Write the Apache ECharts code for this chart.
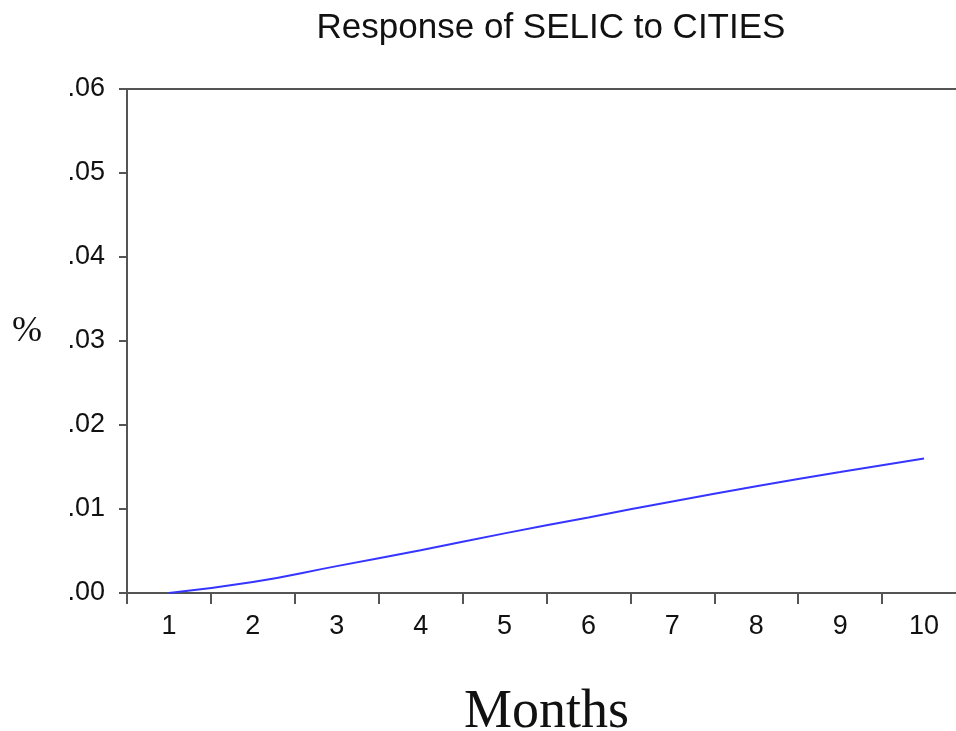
<!DOCTYPE html>
<html>
<head>
<meta charset="utf-8">
<script src="https://cdn.jsdelivr.net/npm/echarts@6/dist/echarts.min.js"></script>
<style>
  html, body { margin: 0; padding: 0; background: #fff; }
  #chart { width: 956px; height: 731px; }
</style>
</head>
<body>
<div id="chart"></div>
<script>
const months = ['1', '2', '3', '4', '5', '6', '7', '8', '9', '10'];
const response = [0.0000, 0.0013, 0.0032, 0.0051, 0.0071, 0.0090, 0.0109, 0.0127, 0.0144, 0.0160];

const chart = echarts.init(document.getElementById('chart'));
const axisGray = '#555555';

const option = {
    backgroundColor: '#ffffff',
    animation: false,
    title: {
        text: 'Response of SELIC to CITIES',
        left: 546,
        textAlign: 'center',
        top: 6,
        textStyle: {
            fontFamily: 'Liberation Sans',
            fontWeight: 'normal',
            fontSize: 35,
            color: '#111'
        }
    },
    // the y label sits a bit above the plot middle, so it is placed by hand
    graphic: [{
        type: 'text',
        left: 12,
        top: 314,
        style: {
            text: '%',
            fontFamily: 'Liberation Serif',
            fontSize: 36,
            fill: '#111'
        }
    }],
    grid: {
        left: 127,
        right: -10,
        top: 89,
        bottom: 138,
        outerBoundsMode: 'none',
        containLabel: false,
        show: true,
        borderColor: axisGray,
        borderWidth: 2
    },
    xAxis: {
        type: 'category',
        data: months,
        boundaryGap: true,
        name: 'Months',
        nameLocation: 'middle',
        nameGap: 93,
        nameMoveOverlap: false,
        nameTextStyle: {
            fontFamily: 'Liberation Serif',
            fontSize: 54,
            color: '#111'
        },
        axisLine: { lineStyle: { color: axisGray, width: 2 } },
        axisTick: { show: true, length: 11, alignWithLabel: false, lineStyle: { color: axisGray, width: 2 } },
        axisLabel: {
            margin: 20,
            fontFamily: 'Liberation Sans',
            fontSize: 27,
            color: '#111'
        },
        splitLine: { show: false }
    },
    yAxis: {
        type: 'value',
        min: 0,
        max: 0.06,
        interval: 0.01,
        axisLine: { show: true, lineStyle: { color: axisGray, width: 2 } },
        axisTick: { show: true, length: 8, lineStyle: { color: axisGray, width: 2 } },
        axisLabel: {
            margin: 22,
            fontFamily: 'Liberation Sans',
            fontSize: 27,
            color: '#111',
            formatter: v => v.toFixed(2).replace(/^0/, '')
        },
        splitLine: { show: false }
    },
    series: [{
        type: 'line',
        data: response,
        smooth: true,
        symbol: 'none',
        lineStyle: { color: '#3535ff', width: 2 }
    }]
};

chart.setOption(option);
</script>
</body>
</html>
